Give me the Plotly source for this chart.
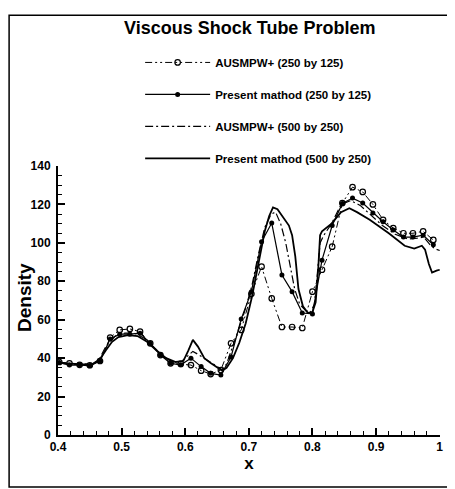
import plotly.graph_objects as go

# marker-grid samples (250 by 125 runs)
x_coarse = [0.402, 0.418, 0.434, 0.450, 0.466, 0.482, 0.497, 0.513, 0.529, 0.545,
            0.561, 0.577, 0.593, 0.609, 0.625, 0.640, 0.656, 0.672, 0.688, 0.704,
            0.720, 0.736, 0.752, 0.768, 0.784, 0.800, 0.815, 0.831, 0.847, 0.863,
            0.879, 0.895, 0.911, 0.927, 0.943, 0.958, 0.974, 0.990]
ausm_250 = [38.0, 37.3, 36.5, 36.3, 38.5, 50.7, 54.7, 55.2, 53.8, 47.7,
            41.6, 37.3, 37.0, 36.4, 33.5, 31.7, 33.8, 47.7, 54.7, 73.5,
            87.6, 71.1, 56.2, 56.2, 55.7, 74.6, 86.0, 98.0, 120.7, 129.0,
            126.5, 120.0, 112.0, 107.7, 105.0, 105.0, 106.0, 101.5]
present_250 = [37.7, 36.4, 36.5, 36.0, 38.5, 50.0, 52.5, 52.5, 53.0, 47.7,
               41.6, 37.3, 36.5, 40.0, 35.6, 32.1, 31.2, 40.6, 60.4, 74.6,
               100.6, 110.3, 83.3, 74.6, 63.5, 63.0, 91.0, 109.0, 120.5, 123.3,
               120.7, 115.6, 111.0, 106.7, 103.0, 103.0, 104.0, 99.0]

# fine-grid curves (500 by 250 runs)
x_ausm_500 = [0.40, 0.42, 0.44, 0.455, 0.465, 0.475, 0.49, 0.505, 0.52, 0.535,
              0.55, 0.565, 0.58, 0.595, 0.605, 0.612, 0.62, 0.635, 0.65, 0.658,
              0.665, 0.675, 0.685, 0.695, 0.705, 0.715, 0.725, 0.735, 0.742, 0.75,
              0.758, 0.765, 0.772, 0.78, 0.79, 0.797, 0.803, 0.808, 0.812, 0.818,
              0.83, 0.845, 0.86, 0.875, 0.89, 0.91, 0.93, 0.95, 0.965, 0.975,
              0.985, 0.992, 1.0]
ausm_500 = [38.0, 37.0, 36.8, 37.2, 39.5, 46.0, 51.5, 53.0, 53.0, 50.5,
            46.0, 41.0, 38.0, 38.5, 41.5, 43.5, 42.0, 39.0, 36.0, 34.0,
            37.0, 46.0, 56.0, 66.0, 78.0, 94.0, 108.0, 115.0, 116.0, 110.0,
            100.0, 88.0, 76.0, 68.0, 64.5, 64.0, 68.0, 85.0, 100.0, 104.0,
            110.0, 120.0, 122.0, 119.5, 115.0, 109.0, 104.5, 102.0, 102.5, 103.0,
            99.0, 97.0, 96.0]

x_present_500 = [0.40, 0.42, 0.44, 0.455, 0.465, 0.475, 0.485, 0.495, 0.51, 0.525,
                 0.54, 0.555, 0.57, 0.585, 0.597, 0.605, 0.612, 0.62, 0.63, 0.64,
                 0.65, 0.658, 0.665, 0.675, 0.685, 0.695, 0.705, 0.715, 0.725, 0.732,
                 0.738, 0.745, 0.755, 0.763, 0.768, 0.773, 0.778, 0.785, 0.793, 0.80,
                 0.805, 0.809, 0.812, 0.815, 0.83, 0.845, 0.858, 0.87, 0.89, 0.92,
                 0.945, 0.96, 0.972, 0.977, 0.983, 0.988, 0.995, 1.0]
present_500 = [37.5, 37.0, 36.8, 37.0, 39.0, 44.0, 48.5, 51.0, 52.0, 51.5,
               48.5, 44.0, 40.0, 38.0, 38.5, 44.0, 49.5, 46.0, 40.0, 37.5,
               35.5, 33.5, 35.0, 40.0, 48.0, 58.0, 72.0, 90.0, 106.0, 114.0,
               118.5, 117.5, 113.0, 109.0, 104.0, 93.0, 76.0, 67.0, 63.5, 64.0,
               69.0, 86.0, 104.0, 106.0, 110.0, 116.0, 118.0, 116.0, 112.0, 105.0,
               98.5, 97.0, 98.5, 96.5, 89.0, 84.5, 85.5, 86.0]

font = "Liberation Sans, Arial, sans-serif"

fig = go.Figure()

fig.add_trace(go.Scatter(
    name="AUSMPW+ (250 by 125)", x=x_coarse, y=ausm_250, mode="lines+markers",
    line=dict(color="black", width=1, dash="7px,3px,2px,3px,2px,3px"),
    marker=dict(symbol="circle-open", size=5.5, color="black", line=dict(width=1.2)),
    legendgroup="a"))
fig.add_trace(go.Scatter(
    name="Present mathod (250 by 125)", x=x_coarse, y=present_250, mode="lines+markers",
    line=dict(color="black", width=1.2),
    marker=dict(symbol="circle", size=5, color="black"),
    legendgroup="b"))
fig.add_trace(go.Scatter(
    name="AUSMPW+ (500 by 250)", x=x_ausm_500, y=ausm_500, mode="lines",
    line=dict(color="black", width=1.2, dash="8px,3px,2px,3px"),
    legendgroup="c"))
fig.add_trace(go.Scatter(
    name="Present mathod (500 by 250)", x=x_present_500, y=present_500, mode="lines",
    line=dict(color="black", width=1.8),
    legendgroup="d"))

axis_common = dict(
    showline=True, linecolor="black", linewidth=2, mirror=False,
    showgrid=False, zeroline=False,
    ticks="inside", ticklen=7, tickwidth=1.5, tickcolor="black",
    tickfont=dict(family=font, size=12, color="black", weight="bold"),
)

fig.update_xaxes(
    range=[0.4, 1.0005], dtick=0.1,
    minor=dict(dtick=0.02, ticks="inside", ticklen=4, tickcolor="black", tickwidth=1),
    title=dict(text="x", font=dict(family=font, size=17, color="black", weight="bold"), standoff=4),
    **axis_common)
fig.update_yaxes(
    range=[0, 140], dtick=20, ticklabelstandoff=3,
    minor=dict(dtick=5, ticks="inside", ticklen=4, tickcolor="black", tickwidth=1),
    **axis_common)

# the page body adds an 8px offset, so the figure is sized to fit the window
fig.update_layout(
    width=447, height=481,
    margin=dict(l=50, r=15, t=158, b=54, autoexpand=False),
    paper_bgcolor="white", plot_bgcolor="white",
    showlegend=True,
    legend=dict(
        x=0.215, y=0.917, xref="paper", yref="container", xanchor="left", yanchor="top",
        font=dict(family=font, size=11.5, color="black", weight="bold"),
        itemwidth=65, tracegroupgap=13, traceorder="grouped",
        bgcolor="rgba(0,0,0,0)"),
    annotations=[
        dict(text="Viscous Shock Tube Problem", xref="paper", yref="paper",
             x=0.5, y=1.513, xanchor="center", yanchor="middle", showarrow=False,
             font=dict(family=font, size=18, color="black", weight="bold")),
        dict(text="Density", xref="paper", yref="paper", textangle=-90,
             x=-0.086, y=0.51, xanchor="center", yanchor="middle", showarrow=False,
             font=dict(family=font, size=19, color="black", weight="bold")),
    ],
    shapes=[dict(type="rect", xref="paper", yref="paper",
                 x0=-0.128, x1=1.0236, y0=-0.193, y1=1.56,
                 line=dict(color="black", width=1.5))],
)

fig.write_html("out.html")
